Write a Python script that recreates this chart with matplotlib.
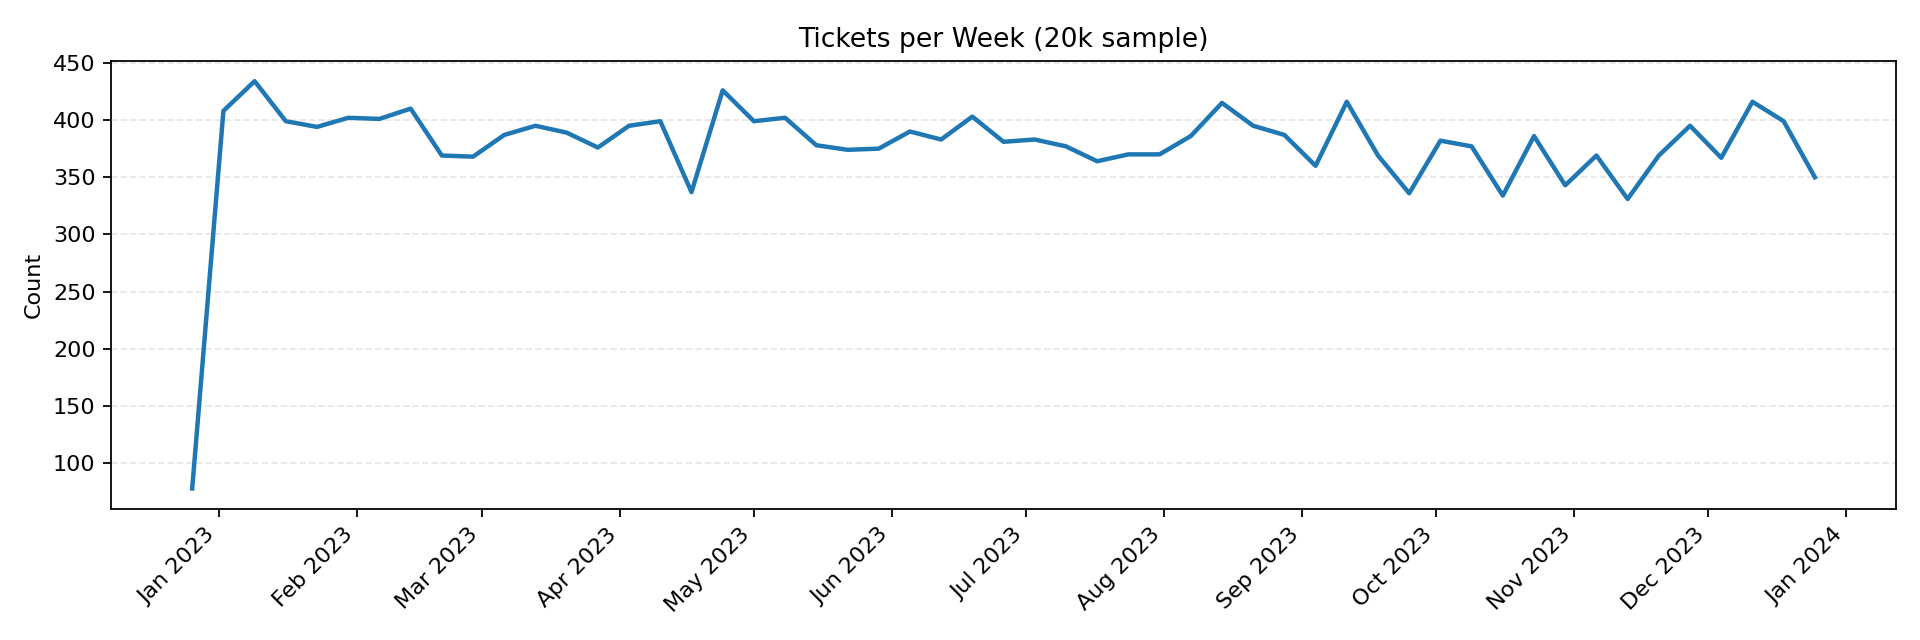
import matplotlib
matplotlib.use("Agg")
import matplotlib.pyplot as plt
import matplotlib.dates as mdates
import pandas as pd

# weekly buckets (week start, Monday)
weeks = pd.date_range("2022-12-26", periods=53, freq="7D")
counts = [78, 408, 434, 399, 394, 402, 401, 410, 369, 368,
          387, 395, 389, 376, 395, 399, 337, 426, 399, 402,
          378, 374, 375, 390, 383, 403, 381, 383, 377, 364,
          370, 370, 386, 415, 395, 387, 360, 416, 369, 336,
          382, 377, 334, 386, 343, 369, 331, 369, 395, 367,
          416, 399, 350]

fig, ax = plt.subplots(figsize=(12, 4), dpi=160)
ax.plot(weeks, counts, color="tab:blue", linewidth=2)
ax.set_title("Tickets per Week (20k sample)")
ax.set_ylabel("Count")
ax.grid(axis="y", linestyle="--", alpha=0.3)

ax.xaxis.set_major_locator(mdates.MonthLocator())
ax.xaxis.set_major_formatter(mdates.DateFormatter("%b %Y"))
plt.setp(ax.get_xticklabels(), rotation=45, ha="right")

fig.tight_layout()
fig.subplots_adjust(top=0.905)
fig.savefig("out.png")
